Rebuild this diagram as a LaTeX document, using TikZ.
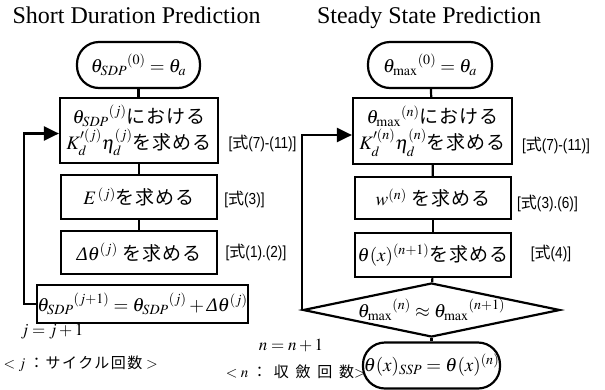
\documentclass[tikz,border=0pt]{standalone}
\usepackage{mathptmx}
\usepackage{fontspec}
\setmainfont{Liberation Serif}
\newfontfamily\jp[LetterSpace=5]{Noto Sans CJK JP}
\newfontfamily\jpcyc[LetterSpace=10]{Noto Sans CJK JP}
\newfontfamily\jpconv[LetterSpace=45]{Noto Sans CJK JP}
\newfontfamily\lblfont[FakeStretch=0.85]{Liberation Sans}
\usetikzlibrary{positioning, arrows.meta, shapes.geometric}
\newcommand{\jtxt}[1]{{\jp #1}}
\newcommand{\dtheta}{\mbox{\itshape Δ}\theta}

\begin{document}
\begin{tikzpicture}[x=1pt, y=-1pt,
    proc/.style={draw, line width=2.2pt, inner sep=0pt, align=center, font=\fontsize{19}{26}\selectfont},
    term/.style={proc, rounded corners=22pt},
    cond/.style={draw, line width=2.2pt, diamond, inner sep=0pt, font=\fontsize{19}{25}\selectfont},
    ref/.style={font=\lblfont\fontsize{16}{18}\selectfont, inner sep=0pt},
    note/.style={font=\fontsize{15}{18}\selectfont, inner sep=0pt},
    title/.style={font=\fontsize{24}{28}\selectfont, anchor=base, inner sep=0pt},
    link/.style={line width=2.2pt},
    arr/.style={line width=2.2pt, -{Triangle[length=15pt, width=14pt]}}
]
\useasboundingbox (0,0) rectangle (605,389);
% --- Short duration prediction ---
\node[title] (ttlL) at (136.5,23) {Short Duration Prediction};
\node[term, minimum width=123pt, minimum height=46pt] (startL) at (138.5,65) {${\theta_{SDP}}^{(0)}=\theta_a$};
\node[proc, minimum width=158pt, minimum height=65pt] (kdL) at (139,130.5) {${\theta_{SDP}}^{(j)}$\jtxt{における}\\$K'^{(j)}_d\eta_d^{(j)}$\jtxt{を求める}};
\node[proc, minimum width=156pt, minimum height=44pt] (eL) at (139,197) {$E^{\,(j)}$\jtxt{を求める}};
\node[proc, minimum width=156pt, minimum height=43pt] (dthL) at (139,252.5) {$\dtheta^{(j)}$\ \jtxt{を求める}};
\node[proc, minimum width=201pt, minimum height=38pt] (updL) at (142.5,304) {${\theta_{SDP}}^{(j+1)}={\theta_{SDP}}^{(j)}+\dtheta^{(j)}$};
\node[ref] (refKL) at (262.5,143) {[{\jp 式}(7)-(11)]};
\node[ref] (refEL) at (244.5,199) {[{\jp 式}(3)]};
\node[ref] (refDL) at (256,252) {[{\jp 式}(1).(2)]};
\node[note, font=\fontsize{17}{20}\selectfont] (incL) at (52,332) {$j=j+1$};
\node[note, anchor=east] (cntL) at (158,364) {$<j$\ {\jpcyc ：サイクル回数}\ $>$};
\draw[link] (startL.south) -- (startL.south |- kdL.north);
\draw[link] (kdL) -- (eL);
\draw[link] (eL) -- (dthL);
\draw[arr] (updL.west) -| ([xshift=-35pt, yshift=-3pt]kdL.west) -- ([yshift=-3pt]kdL.west);
% --- Steady state prediction ---
\node[title] (ttlR) at (429,23) {Steady State Prediction};
\node[term, minimum width=124pt, minimum height=46pt] (startR) at (430,65) {${\theta_{\max}}^{(0)}=\theta_a$};
\node[proc, minimum width=159pt, minimum height=66pt] (kdR) at (432.5,131) {${\theta_{\max}}^{(n)}$\jtxt{における}\\$K'^{(n)}_d\eta_d^{(n)}$\jtxt{を求める}};
\node[proc, minimum width=156pt, minimum height=42pt] (wR) at (433,198) {$w^{(n)}$\ \jtxt{を求める}};
\node[proc, minimum width=156pt, minimum height=44pt] (thR) at (433,255) {$\theta(x)^{(n+1)}$\jtxt{を求める}};
\node[cond, minimum width=257pt, minimum height=54pt] (chkR) at (431.5,310) {\makebox[0pt]{${\theta_{\max}}^{(n)}\approx{\theta_{\max}}^{(n+1)}$}};
\node[term, minimum width=137pt, minimum height=46pt] (endR) at (431.5,365.5) {$\theta(x)_{\mathit{SSP}}=\theta(x)^{(n)}$};
\node[ref] (refKR) at (556,145) {[{\jp 式}(7)-(11)]};
\node[ref] (refWR) at (547.5,203) {[{\jp 式}(3).(6)]};
\node[ref] (refTR) at (551,253) {[{\jp 式}(4)]};
\node[note, font=\fontsize{17}{20}\selectfont] (incR) at (291,345) {$n=n+1$};
\node[note, anchor=east] (cntR) at (366,372) {$<n$\ {\jpconv ：収斂回数}$>$};
\draw[link] (startR) -- (kdR);
\draw[link] (kdR) -- (wR);
\draw[link] (wR) -- (thR);
\draw[link] (thR) -- (chkR);
\draw[link] (chkR) -- (endR);
\draw[arr] (chkR.west) |- ([yshift=-4pt]kdR.west);
\end{tikzpicture}
\end{document}
